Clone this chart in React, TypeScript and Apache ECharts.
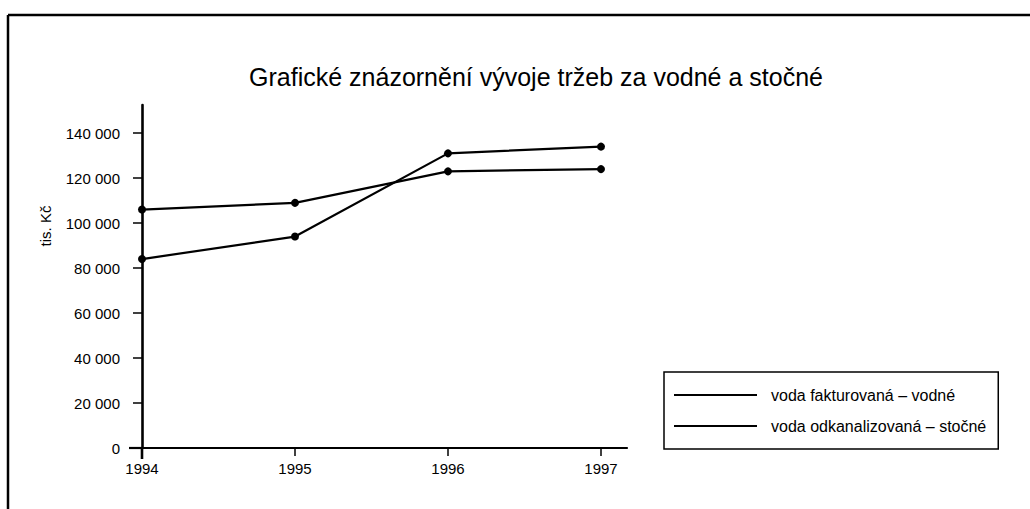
import React, { useEffect, useRef } from "react";
import * as echarts from "echarts";

const TITLE = "Grafické znázornění vývoje tržeb za vodné a stočné";
const Y_NAME = "tis. Kč";
const YEARS = [1994, 1995, 1996, 1997];
const SERIES_NAMES = ["voda fakturovaná – vodné", "voda odkanalizovaná – stočné"];
const VODNE = [106000, 109000, 123000, 124000];
const STOCNE = [84000, 94000, 131000, 134000];
const Y_TICKS = [0, 20000, 40000, 60000, 80000, 100000, 120000, 140000];

const FONT = "'Liberation Sans', Arial, Helvetica, sans-serif";

function fmt(v: number): string {
  return String(v).replace(/\B(?=(\d{3})+(?!\d))/g, " ");
}

export default function App() {
  const ref = useRef<HTMLDivElement>(null);
  useEffect(() => {
    if (!ref.current) return;
    const chart = echarts.init(ref.current, undefined, { renderer: "svg" });
    const mk = (name: string, vals: number[]) => ({
      name,
      type: "line",
      data: YEARS.map((y, i) => [y, vals[i]]),
      symbol: "circle",
      symbolSize: 8,
      lineStyle: { color: "#000", width: 2.2 },
      itemStyle: { color: "#000" },
      emphasis: { disabled: true },
    });
    const frame = [
      { type: "line", shape: { x1: 8, y1: 15, x2: 1030, y2: 15 }, style: { stroke: "#000", lineWidth: 2.5 } },
      { type: "line", shape: { x1: 8, y1: 15, x2: 8, y2: 509 }, style: { stroke: "#000", lineWidth: 2.5 } },
      {
        type: "text",
        x: 45,
        y: 226,
        rotation: Math.PI / 2,
        style: { text: Y_NAME, font: `15px ${FONT}`, fill: "#000", textAlign: "center", textVerticalAlign: "middle" },
      },
    ];
    chart.setOption({
      animation: false,
      backgroundColor: "#fff",
      textStyle: { fontFamily: FONT, color: "#000" },
      title: {
        text: TITLE,
        left: 531,
        top: 59,
        textAlign: "center",
        textStyle: { fontFamily: FONT, fontSize: 25, fontWeight: "normal", color: "#000" },
      },
      grid: { left: 142, right: 403, top: 105, bottom: 61 },
      xAxis: {
        type: "value",
        min: 1994,
        max: 1997.17,
        splitLine: { show: false },
        axisLine: { lineStyle: { color: "#000", width: 2.2 } },
        axisTick: { length: 8, lineStyle: { color: "#000", width: 1.5 }, customValues: YEARS },
        axisLabel: {
          customValues: YEARS,
          formatter: (v: number) => String(v),
          fontFamily: FONT,
          fontSize: 15,
          color: "#000",
          margin: 13,
        },
      },
      yAxis: {
        type: "value",
        min: 0,
        max: 152500,
        splitLine: { show: false },
        axisLine: { show: true, lineStyle: { color: "#000", width: 2.6 } },
        axisTick: { show: true, length: 9, lineStyle: { color: "#000", width: 1.5 }, customValues: Y_TICKS },
        axisLabel: {
          customValues: Y_TICKS,
          formatter: (v: number) => fmt(v),
          fontFamily: FONT,
          fontSize: 15,
          color: "#000",
          margin: 22,
        },
      },
      legend: {
        orient: "vertical",
        left: 664,
        top: 372,
        data: SERIES_NAMES.map((n) => ({ name: n, icon: "rect" })),
        itemWidth: 83,
        itemHeight: 2,
        itemGap: 15,
        padding: [15, 12, 15, 10],
        borderColor: "#000",
        borderWidth: 1.5,
        borderRadius: 0,
        selectedMode: false,
        textStyle: { fontFamily: FONT, fontSize: 16, color: "#000", padding: [0, 0, 0, 9], lineHeight: 16 },
      },
      graphic: frame,
      series: [mk(SERIES_NAMES[0], VODNE), mk(SERIES_NAMES[1], STOCNE)],
    });
    const o = chart.convertToPixel({ gridIndex: 0 }, [YEARS[0], 0]) as number[];
    if (o) {
      chart.setOption({
        graphic: [
          ...frame,
          { type: "line", shape: { x1: o[0] - 13, y1: o[1], x2: o[0], y2: o[1] }, style: { stroke: "#000", lineWidth: 2.2 } },
          { type: "line", shape: { x1: o[0], y1: o[1], x2: o[0], y2: o[1] + 11 }, style: { stroke: "#000", lineWidth: 2.6 } },
        ],
      });
    }
    return () => chart.dispose();
  }, []);
  return <div ref={ref} style={{ width: 1030, height: 509, position: "absolute", left: 0, top: 0 }} />;
}
